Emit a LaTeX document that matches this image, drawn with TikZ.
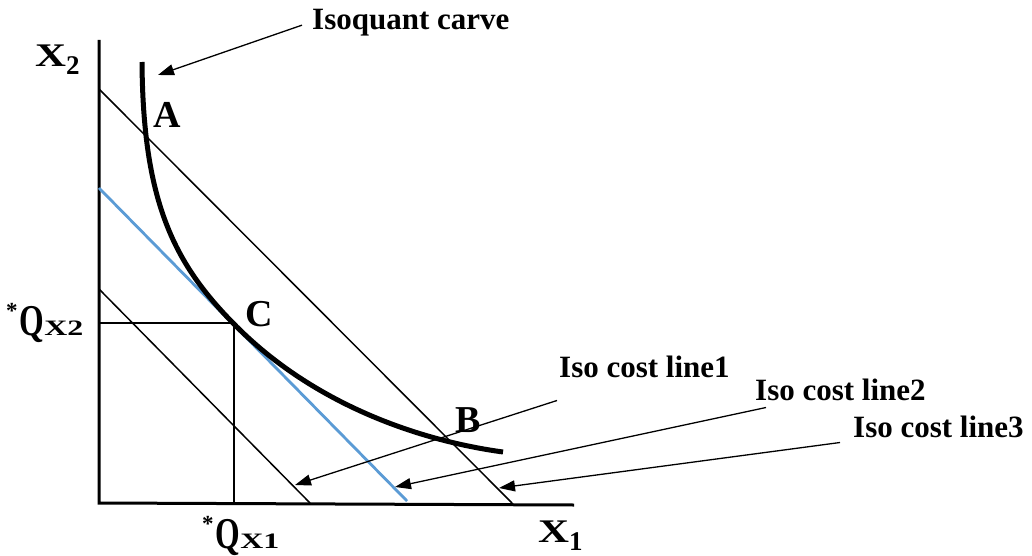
\documentclass[tikz,border=0pt]{standalone}
\usepackage{graphicx}
\usepackage{fontspec}
\setmainfont{Liberation Serif}
\usetikzlibrary{arrows.meta}
\definecolor{isoblue}{HTML}{5B9BD5}
\begin{document}
\begin{tikzpicture}[x=1pt,y=-1pt,
  lbl/.style={font=\fontsize{31}{31}\selectfont\bfseries, inner sep=0pt, anchor=base west},
  ptlbl/.style={font=\fontsize{38}{38}\selectfont\bfseries, inner sep=0pt, anchor=base west},
  axislbl/.style={font=\bfseries, inner sep=0pt, anchor=base west},
  axisline/.style={line width=3pt, line join=miter},
  costline/.style={line width=1.5pt},
  bluecost/.style={line width=2.8pt, draw=isoblue},
  guide/.style={line width=1.3pt},
  isoqline/.style={line width=5pt},
  pointer/.style={line width=1.3pt, -{Triangle[length=16pt,width=11pt]}},
]
\useasboundingbox (0,0) rectangle (1032,556);

% axes
\coordinate (O) at (99,503);
\coordinate (Ytop) at (99,40);
\coordinate (Xend) at (574,505);
\draw[axisline] (Ytop) -- (O) -- (Xend);

% iso cost lines
\coordinate (L3a) at (99,89);  \coordinate (L3b) at (512,503);
\coordinate (L2a) at (99,188); \coordinate (L2b) at (407,501);
\coordinate (L1a) at (99,289); \coordinate (L1b) at (310,503);
\draw[costline] (L3a) -- (L3b);
\draw[bluecost] (L2a) -- (L2b);
\draw[costline] (L1a) -- (L1b);

% optimum point guides
\coordinate (Cpt) at (233,323);
\coordinate (Cy) at (99,323);
\coordinate (Cx) at (234,503);
\coordinate (Cv) at (234,323);
\draw[guide] (Cy) -- (Cpt);
\draw[guide] (Cv) -- (Cx);

% isoquant
\coordinate (Qtop) at (142,62);
\coordinate (Qend) at (503,452);
\draw[isoqline] (Qtop) .. controls (143,200) and (173,262) .. (Cpt)
  .. controls (310,402) and (415,440) .. (Qend);

% point labels
\node[ptlbl] (A) at (153,128) {A};
\node[ptlbl] (C) at (245,326) {C};
\node[ptlbl] (B) at (455,432) {B};

% axis labels
\node[axislbl] (X2) at (35,67) {\scalebox{1.3}[1]{\fontsize{33}{33}\selectfont X}\raisebox{-8pt}{\fontsize{27}{27}\selectfont 2}};
\node[axislbl] (X1) at (538,542) {\scalebox{1.3}[1]{\fontsize{33}{33}\selectfont X}\raisebox{-8pt}{\fontsize{27}{27}\selectfont 1}};
\node[axislbl] (QX2) at (6,335) {\raisebox{17pt}{\fontsize{23}{23}\selectfont *}\hspace{2pt}\scalebox{0.72}[1]{\fontsize{44}{44}\selectfont Q}\scalebox{1.45}[1]{\fontsize{22}{22}\selectfont X2}};
\node[axislbl] (QX1) at (202,548) {\raisebox{17pt}{\fontsize{23}{23}\selectfont *}\hspace{2pt}\scalebox{0.72}[1]{\fontsize{44}{44}\selectfont Q}\scalebox{1.45}[1]{\fontsize{22}{22}\selectfont X1}};

% callouts
\node[lbl] (isoq) at (312,30) {Isoquant carve};
\node[lbl] (c1) at (559,377) {Iso cost line1};
\node[lbl] (c2) at (755,400) {Iso cost line2};
\node[lbl] (c3) at (853,437) {Iso cost line3};

\coordinate (tipQ) at (158,75);
\coordinate (tip1) at (295,485);
\coordinate (tip2) at (395,487);
\coordinate (tip3) at (499,488);
\draw[pointer] ([xshift=-10pt,yshift=-2pt]isoq.west) -- (tipQ);
\draw[pointer] ([xshift=-2pt,yshift=-23pt]c1.south west) -- (tip1);
\draw[pointer] ([xshift=11pt,yshift=-7pt]c2.south west) -- (tip2);
\draw[pointer] ([xshift=-13pt,yshift=-5pt]c3.south west) -- (tip3);
\end{tikzpicture}
\end{document}
